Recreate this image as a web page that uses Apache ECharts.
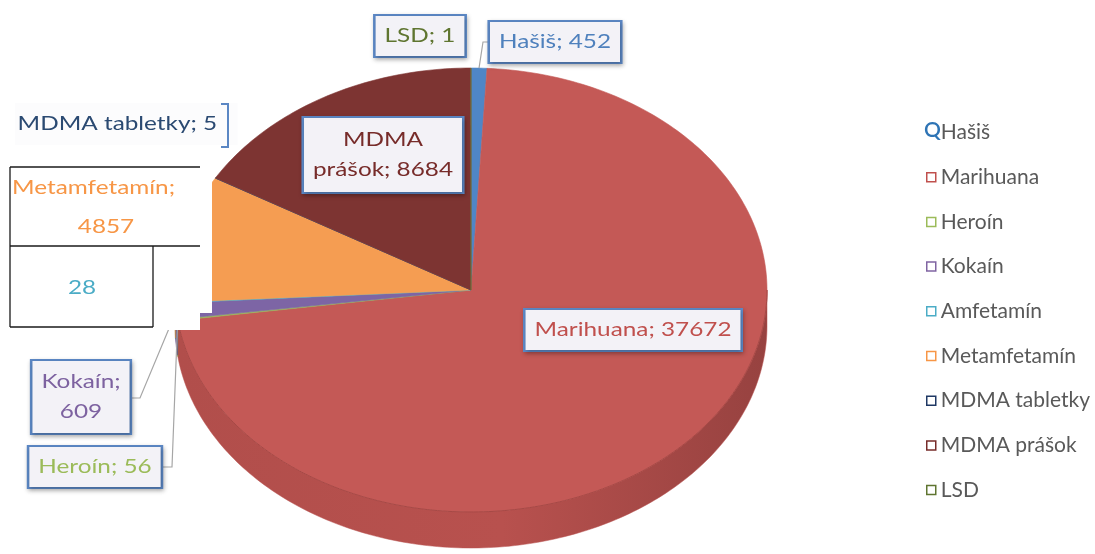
<!DOCTYPE html>
<html>
<head>
<meta charset="utf-8">
<script src="https://cdn.jsdelivr.net/npm/echarts@6/dist/echarts.min.js"></script>
<style>html,body{margin:0;padding:0;background:#fff}#c{width:1095px;height:554px}</style>
</head>
<body>
<div id="c"></div>
<script>
// ---- data ----
const categories = ['Hašiš', 'Marihuana', 'Heroín', 'Kokaín', 'Amfetamín', 'Metamfetamín', 'MDMA tabletky', 'MDMA prášok', 'LSD'];
const values = [452, 37672, 56, 609, 28, 4857, 5, 8684, 1];

// ---- styles ----
const sliceColors = ['#4f86c6', '#c45956', '#97b55a', '#7d65a5', '#4bacc6', '#f59d52', '#2c4d75', '#7d3432', '#6b7b3a'];
const sideColors  = ['#3f6ea6', '#b8514e', '#7e9849', '#66518a', '#3b8fa7', '#d7803d', '#213b5b', '#632826', '#55632d'];
const legendColors = ['#4f81bd', '#c0504d', '#9bbb59', '#8064a2', '#4bacc6', '#f79646', '#1f3864', '#772c2a', '#5f7530'];
const labelColors  = ['#4f81bd', '#c0504d', '#9bbb59', '#7d62a0', '#4bacc6', '#f79646', '#2b4a72', '#772c2a', '#5f7530'];

const PIE = { cx: 471, cy: 290, rx: 296, ry: 222, depth: 36 };
const TXT_SCALE = 1.28;

// label layout (positions only)
const labelLayout = {
  'Hašiš':         { mode: 'one',        x: 555, y: 42,  line: [[492, 42], [483, 42]] },
  'Marihuana':     { mode: 'one',        x: 633, y: 330 },
  'Heroín':        { mode: 'one',        x: 95,  y: 467, line: [[160, 467], [172, 467]] },
  'Kokaín':        { mode: 'splitValue', x: 81,  y: 397, line: [[130, 398], [140, 398]] },
  'Amfetamín':     { mode: 'valueOnly',  x: 82,  y: 288 },
  'Metamfetamín':  { mode: 'table',      x: 12,  y: 188, vx: 106, vy: 227 },
  'MDMA tabletky': { mode: 'plain',      x: 15,  y: 124 },
  'MDMA prášok':   { mode: 'splitName',  x: 383, y: 155 },
  'LSD':           { mode: 'one',        x: 420, y: 36 }
};

const total = values.reduce((a, b) => a + b, 0);
const cum = [];
(function () { let acc = 0; values.forEach(v => { cum.push(acc); acc += v; }); })();

function pt(theta, dy) {
  return [PIE.cx + PIE.rx * Math.cos(theta), PIE.cy + PIE.ry * Math.sin(theta) + (dy || 0)];
}
function arc(t0, t1, dy) {
  const n = Math.max(1, Math.ceil(Math.abs(t1 - t0) / (Math.PI / 180)));
  const pts = [];
  for (let k = 0; k <= n; k++) pts.push(pt(t0 + (t1 - t0) * k / n, dy));
  return pts;
}
function shade(hex, f) {
  const n = parseInt(hex.slice(1), 16);
  let r = n >> 16, g = (n >> 8) & 255, b = n & 255;
  r = Math.round(r * (1 + f)); g = Math.round(g * (1 + f)); b = Math.round(b * (1 + f));
  const c = x => Math.max(0, Math.min(255, x)).toString(16).padStart(2, '0');
  return '#' + c(r) + c(g) + c(b);
}

const boxStyle = {
  backgroundColor: '#f3f2f7', borderColor: '#5b87c4', borderWidth: 2,
  shadowBlur: 4, shadowColor: 'rgba(0,0,0,0.25)', shadowOffsetX: 1, shadowOffsetY: 2
};

function labelEls(i, v, midTheta) {
  const name = categories[i];
  const L = labelLayout[name];
  if (!L) return [];
  const els = [];
  const font = '19px Lato';
  const col = labelColors[i];
  if (L.line) {
    const end = pt(midTheta, 0);
    els.push({ type: 'polyline', z2: 90, shape: { points: L.line.concat([end]) },
      style: { stroke: '#a6a6a6', lineWidth: 1.2, fill: null } });
  }
  if (L.mode === 'one' || L.mode === 'splitValue' || L.mode === 'splitName') {
    let text, lh, pad;
    if (L.mode === 'one') { text = name + '; ' + v; lh = 24; pad = [8, 7]; }
    else if (L.mode === 'splitValue') { text = name + ';\n' + v; lh = 30; pad = [6, 7]; }
    else { const p = name.split(' '); text = p[0] + '\n' + p.slice(1).join(' ') + '; ' + v; lh = 30; pad = [7, 7]; }
    els.push({ type: 'text', x: L.x, y: L.y, scaleX: TXT_SCALE, z2: 100,
      style: Object.assign({ text: text, fill: col, font: font, align: 'center', verticalAlign: 'middle', lineHeight: lh, padding: pad }, boxStyle) });
  } else if (L.mode === 'plain') {
    els.push({ type: 'text', x: L.x, y: L.y, scaleX: TXT_SCALE, z2: 100,
      style: { text: name + '; ' + v, fill: col, font: font, align: 'left', verticalAlign: 'middle', lineHeight: 24,
        padding: [9, 16, 9, 2], backgroundColor: '#fcfcfd' } });
    els.push({ type: 'polyline', z2: 100, shape: { points: [[221, 104], [228, 104], [228, 147], [221, 147]] },
      style: { stroke: '#5b87c4', lineWidth: 2, fill: null } });
  } else if (L.mode === 'valueOnly') {
    els.push({ type: 'text', x: L.x, y: L.y, scaleX: TXT_SCALE, z2: 100,
      style: { text: String(v), fill: col, font: font, align: 'center', verticalAlign: 'middle' } });
  } else if (L.mode === 'table') {
    // white table area covering part of the pie, with thin black rules
    [[0, 146, 228, 14], [0, 160, 212, 153], [0, 313, 200, 17]].forEach(r => {
      els.push({ type: 'rect', z2: 95, shape: { x: r[0], y: r[1], width: r[2], height: r[3] }, style: { fill: '#ffffff' } });
    });
    [[[10, 167], [200, 167]], [[10, 246], [200, 246]], [[10, 167], [10, 327]], [[10, 327], [153, 327]], [[153, 246], [153, 327]]].forEach(s => {
      els.push({ type: 'line', z2: 96, shape: { x1: s[0][0], y1: s[0][1], x2: s[1][0], y2: s[1][1] }, style: { stroke: '#1a1a1a', lineWidth: 1.3 } });
    });
    els.push({ type: 'text', x: L.x, y: L.y, scaleX: TXT_SCALE, z2: 100,
      style: { text: name + ';', fill: col, font: font, align: 'left', verticalAlign: 'middle' } });
    els.push({ type: 'text', x: L.vx, y: L.vy, scaleX: TXT_SCALE, z2: 100,
      style: { text: String(v), fill: col, font: font, align: 'center', verticalAlign: 'middle' } });
  }
  return els;
}

function makeRender(i) {
  return function (params, api) {
    const v = api.value(0);
    const phi0 = cum[i] / total * Math.PI * 2;
    const phi1 = phi0 + v / total * Math.PI * 2;
    const t0 = phi0 - Math.PI / 2, t1 = phi1 - Math.PI / 2;
    const children = [];
    // side (front half only)
    const a = Math.max(t0, 0), b = Math.min(t1, Math.PI);
    if (b > a) {
      const pts = arc(a, b, 0).concat(arc(b, a, PIE.depth));
      children.push({ type: 'polygon', z2: 1, shape: { points: pts },
        style: { fill: { type: 'linear', x: 0, y: 0, x2: 1, y2: 0, colorStops: [
          { offset: 0, color: shade(sideColors[i], -0.04) },
          { offset: 0.55, color: sideColors[i] },
          { offset: 1, color: shade(sideColors[i], -0.18) }] },
          stroke: sideColors[i], lineWidth: 0.5 } });
    }
    // top surface
    const top = [[PIE.cx, PIE.cy]].concat(arc(t0, t1, 0));
    children.push({ type: 'polygon', z2: 2, shape: { points: top },
      style: { fill: sliceColors[i], stroke: sliceColors[i], lineWidth: 0.6 } });
    // rim line
    if (b > a) {
      children.push({ type: 'polyline', z2: 3, shape: { points: arc(a, b, 0) },
        style: { stroke: shade(sideColors[i], -0.1), lineWidth: 1, fill: null } });
    }
    return { type: 'group', children: children.concat(labelEls(i, v, (t0 + t1) / 2)) };
  };
}

const series = categories.map((name, i) => ({
  type: 'custom',
  name: name,
  coordinateSystem: 'none',
  itemStyle: { color: legendColors[i] },
  data: [[values[i]]],
  renderItem: makeRender(i),
  silent: true
}));

const chart = echarts.init(document.getElementById('c'));
chart.setOption({
  animation: false,
  backgroundColor: '#ffffff',
  legend: {
    orient: 'vertical', left: 926, top: 122, padding: 0,
    itemWidth: 9, itemHeight: 9, itemGap: 23.7, icon: 'rect',
    selectedMode: false,
    textStyle: { color: '#595959', fontSize: 21, fontFamily: 'Lato', lineHeight: 20 },
    data: categories.map((c, i) => ({
      name: c,
      itemStyle: i === 0
        ? { color: 'rgba(0,0,0,0)', borderColor: 'rgba(0,0,0,0)', borderWidth: 0 }
        : { color: '#ffffff', borderColor: legendColors[i], borderWidth: 1.5 }
    }))
  },
  graphic: [{ type: 'text', left: 924, top: 120, z: 10,
    style: { text: 'Q', fill: '#2e74b5', font: '600 21px Lato' } }],
  series: series
});
</script>
</body>
</html>
